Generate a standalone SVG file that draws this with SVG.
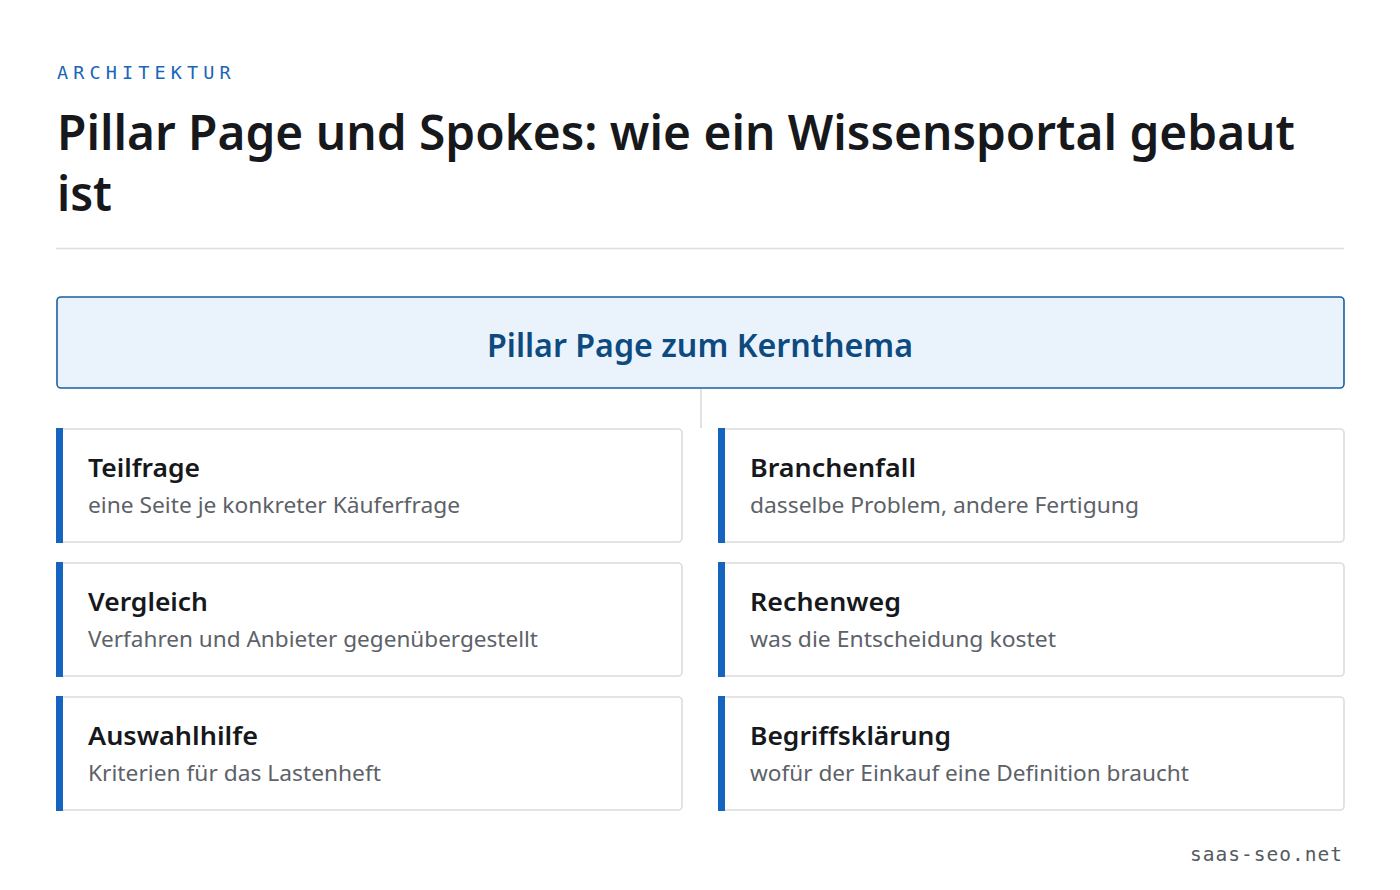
<svg xmlns="http://www.w3.org/2000/svg" width="1400" height="890" viewBox="0 0 1400 890">
<style>
.eyebrow{font-family:"DejaVu Sans Mono","Liberation Mono",monospace;font-size:18.5px;fill:#1a66b8;letter-spacing:4.4px}
.h1{font-family:"Noto Sans","Open Sans",sans-serif;font-size:48px;font-weight:600;fill:#16181c}
.pillar-box{fill:#eaf3fc;stroke:#1a5fa0;stroke-width:1.6}
.pillar-text{font-family:"Noto Sans","Open Sans",sans-serif;font-size:32px;font-weight:600;fill:#0d4a80}
.card{fill:#ffffff;stroke:#dcdcdc;stroke-width:1.6}
.accent{fill:#1565c0}
.ct{font-family:"Noto Sans","Open Sans",sans-serif;font-size:26px;font-weight:600;fill:#16181c}
.cs{font-family:"Noto Sans","Open Sans",sans-serif;font-size:22px;fill:#5d6168}
.conn{stroke:#d8d8d8;stroke-width:1.5;fill:none}
.foot{font-family:"DejaVu Sans Mono","Liberation Mono",monospace;font-size:19.5px;fill:#555a60;letter-spacing:1px}
</style>
<rect width="1400" height="890" fill="#ffffff"/>
<g id="header">
<text class="eyebrow" x="57" y="79" textLength="178" lengthAdjust="spacing">ARCHITEKTUR</text>
<text class="h1" x="57" y="150" textLength="1238" lengthAdjust="spacingAndGlyphs">Pillar Page und Spokes: wie ein Wissensportal gebaut</text>
<text class="h1" x="57" y="211" textLength="55" lengthAdjust="spacingAndGlyphs">ist</text>
<line x1="56" y1="248.5" x2="1344" y2="248.5" stroke="#dddddd" stroke-width="1.5"/>
</g>
<g id="connectors">
<line class="conn" x1="701" y1="389" x2="701" y2="428"/>
</g>
<g id="pillar">
<rect class="pillar-box" x="57" y="297" width="1287" height="91" rx="4"/>
<text class="pillar-text" x="700" y="357" text-anchor="middle" textLength="426" lengthAdjust="spacingAndGlyphs">Pillar Page zum Kernthema</text>
</g>
<g id="card-teilfrage">
<rect class="card" x="57" y="429" width="625" height="113" rx="4"/>
<rect class="accent" x="56" y="428" width="7" height="115"/>
<text class="ct" x="88" y="477" textLength="112" lengthAdjust="spacingAndGlyphs">Teilfrage</text>
<text class="cs" x="88" y="513" textLength="372" lengthAdjust="spacingAndGlyphs">eine Seite je konkreter Käuferfrage</text>
</g>
<g id="card-branchenfall">
<rect class="card" x="719" y="429" width="625" height="113" rx="4"/>
<rect class="accent" x="718" y="428" width="7" height="115"/>
<text class="ct" x="750" y="477" textLength="166" lengthAdjust="spacingAndGlyphs">Branchenfall</text>
<text class="cs" x="750" y="513" textLength="389" lengthAdjust="spacingAndGlyphs">dasselbe Problem, andere Fertigung</text>
</g>
<g id="card-vergleich">
<rect class="card" x="57" y="563" width="625" height="113" rx="4"/>
<rect class="accent" x="56" y="562" width="7" height="115"/>
<text class="ct" x="88" y="611" textLength="120" lengthAdjust="spacingAndGlyphs">Vergleich</text>
<text class="cs" x="88" y="647" textLength="450" lengthAdjust="spacingAndGlyphs">Verfahren und Anbieter gegenübergestellt</text>
</g>
<g id="card-rechenweg">
<rect class="card" x="719" y="563" width="625" height="113" rx="4"/>
<rect class="accent" x="718" y="562" width="7" height="115"/>
<text class="ct" x="750" y="611" textLength="151" lengthAdjust="spacingAndGlyphs">Rechenweg</text>
<text class="cs" x="750" y="647" textLength="306" lengthAdjust="spacingAndGlyphs">was die Entscheidung kostet</text>
</g>
<g id="card-auswahlhilfe">
<rect class="card" x="57" y="697" width="625" height="113" rx="4"/>
<rect class="accent" x="56" y="696" width="7" height="115"/>
<text class="ct" x="88" y="745" textLength="170" lengthAdjust="spacingAndGlyphs">Auswahlhilfe</text>
<text class="cs" x="88" y="781" textLength="293" lengthAdjust="spacingAndGlyphs">Kriterien für das Lastenheft</text>
</g>
<g id="card-begriffsklaerung">
<rect class="card" x="719" y="697" width="625" height="113" rx="4"/>
<rect class="accent" x="718" y="696" width="7" height="115"/>
<text class="ct" x="750" y="745" textLength="201" lengthAdjust="spacingAndGlyphs">Begriffsklärung</text>
<text class="cs" x="750" y="781" textLength="439" lengthAdjust="spacingAndGlyphs">wofür der Einkauf eine Definition braucht</text>
</g>
<g id="footer">
<text class="foot" x="1343" y="861" text-anchor="end">saas-seo.net</text>
</g>
</svg>
